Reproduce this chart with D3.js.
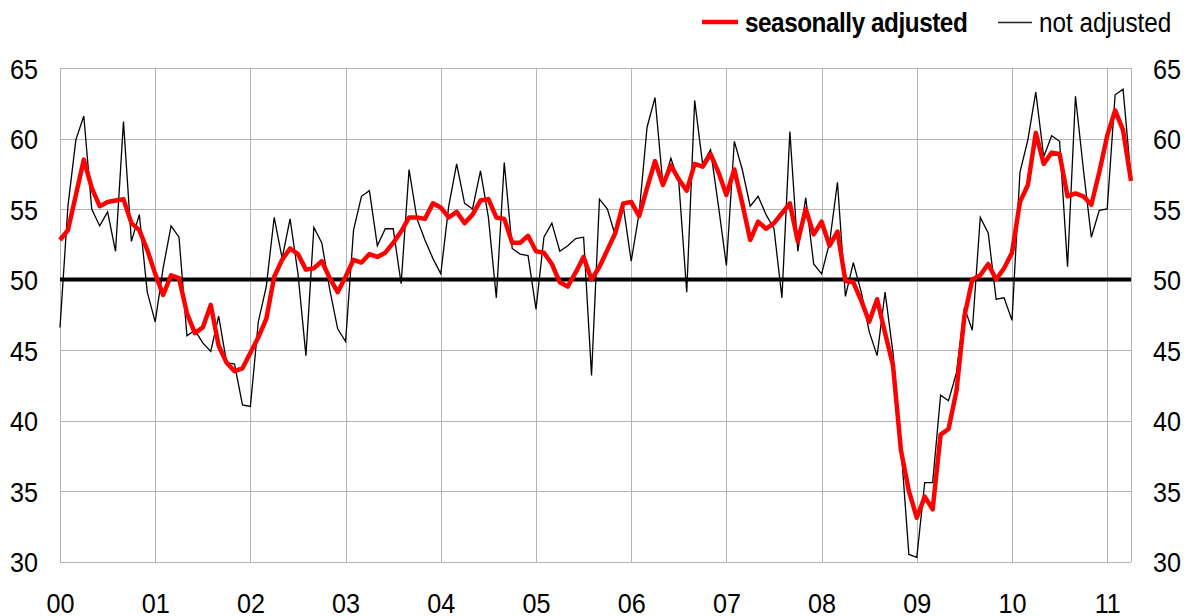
<!DOCTYPE html>
<meta charset="utf-8">
<style>
body { margin: 0; background: #fff; }
text { font-family: "Liberation Sans", Arial, sans-serif; fill: #000; }
.grid line { stroke: #b4b4b4; stroke-width: 1; shape-rendering: crispEdges; }
.grid path { display: none; }
</style>
<body>
<script src="https://d3js.org/d3.v7.min.js"></script>
<script>

// month index 0 = Jan 2000 ... 135 = Apr 2011
var yearLabels = ["00","01","02","03","04","05","06","07","08","09","10","11"];
var yTicks = [30, 35, 40, 45, 50, 55, 60, 65];

var seasonallyAdjusted = [
  52.8, 53.5, 56.0, 58.5, 56.5, 55.2, 55.5, 55.6, 55.7, 54.0, 53.5, 52.1,
  50.4, 48.9, 50.3, 50.1, 47.6, 46.2, 46.6, 48.2, 45.3, 44.1, 43.5, 43.7,
  44.8, 45.9, 47.2, 50.2, 51.4, 52.2, 51.8, 50.7, 50.8, 51.3, 50.1, 49.1,
  50.2, 51.4, 51.2, 51.8, 51.6, 51.9, 52.6, 53.4, 54.4, 54.4, 54.3, 55.4,
  55.1, 54.4, 54.8, 54.0, 54.6, 55.6, 55.7, 54.4, 54.3, 52.6, 52.6, 53.1,
  52.0, 51.9, 51.1, 49.8, 49.5, 50.5, 51.6, 50.0, 50.9, 52.1, 53.3, 55.4,
  55.5, 54.5, 56.5, 58.4, 56.7, 58.1, 57.1, 56.3, 58.2, 58.0, 58.9, 57.6,
  56.0, 57.8, 55.4, 52.8, 54.1, 53.6, 54.0, 54.7, 55.4, 52.7, 55.0, 53.2,
  54.1, 52.4, 53.4, 49.9, 49.8, 48.5, 47.0, 48.6, 46.2, 43.9, 37.9, 35.0,
  33.1, 34.6, 33.7, 39.0, 39.4, 42.1, 47.4, 50.0, 50.3, 51.1, 50.0, 50.8,
  51.9, 55.5, 56.7, 60.4, 58.2, 59.0, 58.9, 55.9, 56.1, 55.9, 55.3, 57.6,
  60.2, 62.0, 60.6, 57.0
];

var notAdjusted = [
  46.6, 55.2, 59.9, 61.6, 55.0, 53.8, 54.8, 52.0, 61.2, 52.7, 54.6, 49.1,
  47.0, 50.8, 53.8, 53.0, 46.0, 46.4, 45.5, 44.9, 47.4, 44.1, 44.0, 41.1,
  41.0, 47.0, 49.5, 54.4, 51.5, 54.3, 50.4, 44.6, 53.7, 52.6, 49.3, 46.5,
  45.6, 53.5, 55.9, 56.3, 52.4, 53.6, 53.6, 49.7, 57.8, 54.3, 52.8, 51.5,
  50.4, 55.2, 58.2, 55.4, 55.0, 57.7, 54.4, 48.7, 58.3, 52.2, 51.8, 51.7,
  47.9, 53.0, 54.0, 52.0, 52.4, 52.9, 53.0, 43.2, 55.7, 55.0, 53.1, 55.2,
  51.3, 54.7, 60.8, 62.9, 56.7, 58.6, 56.9, 49.1, 62.7, 58.2, 59.2, 55.2,
  51.0, 59.8, 57.8, 55.2, 55.9, 54.6, 53.6, 48.7, 60.5, 52.0, 55.8, 51.1,
  50.4, 52.6, 56.9, 48.8, 51.2, 49.1, 46.3, 44.6, 49.1, 44.8, 38.2, 30.5,
  30.3, 35.6, 35.6, 41.8, 41.4, 43.4, 48.0, 46.4, 54.4, 53.3, 48.6, 48.7,
  47.1, 57.6, 59.9, 63.3, 58.7, 60.2, 59.8, 50.9, 63.0, 57.8, 53.0, 54.9,
  55.0, 63.1, 63.5, 57.2
];

var W = 1192, H = 616;
var plotLeft = 60, plotRight = 1131, plotTop = 68, plotBottom = 561.5;

var x = d3.scaleLinear().domain([0, 135]).range([plotLeft, plotRight]);
var y = d3.scaleLinear().domain([30, 65]).range([plotBottom, plotTop]);

var svg = d3.select("body").append("svg")
    .attr("width", W)
    .attr("height", H);

// gridlines
svg.append("g")
    .attr("class", "grid")
    .attr("transform", "translate(" + plotLeft + ",0)")
    .call(d3.axisLeft(y).tickValues(yTicks).tickSize(-(plotRight - plotLeft)).tickFormat(""));

var yearTicks = yearLabels.map(function(d, i) { return i * 12; }).concat([135]);
svg.append("g")
    .attr("class", "grid")
    .attr("transform", "translate(0," + plotBottom + ")")
    .call(d3.axisBottom(x).tickValues(yearTicks).tickSize(-(plotBottom - plotTop)).tickFormat(""));

// 50 line
svg.append("line")
    .attr("x1", x(0)).attr("x2", x(135))
    .attr("y1", y(50)).attr("y2", y(50))
    .attr("stroke", "#000")
    .attr("stroke-width", 4);

var line = d3.line()
    .x(function(d, i) { return x(i); })
    .y(function(d) { return y(d); });

svg.append("path")
    .datum(notAdjusted)
    .attr("fill", "none")
    .attr("stroke", "#000")
    .attr("stroke-width", 1.3)
    .attr("stroke-linejoin", "miter")
    .attr("d", line);

svg.append("path")
    .datum(seasonallyAdjusted)
    .attr("fill", "none")
    .attr("stroke", "#ff0000")
    .attr("stroke-width", 4.5)
    .attr("stroke-linejoin", "round")
    .attr("d", line);

// axes (labels only)
function cleanAxis(g) {
  g.select(".domain").remove();
  g.selectAll(".tick line").remove();
  g.attr("font-size", null);
  g.selectAll("text").style("font-size", "28px").attr("fill", "#000");
}

svg.append("g")
    .attr("transform", "translate(" + plotLeft + ",0)")
    .call(d3.axisLeft(y).tickValues(yTicks).tickFormat(d3.format("d")))
    .call(cleanAxis)
    .selectAll("text")
      .attr("x", null).attr("dy", "0.36em")
      .attr("text-anchor", "end")
      .attr("transform", "translate(-22,0) scale(0.9,1)");

svg.append("g")
    .attr("transform", "translate(" + plotRight + ",0)")
    .call(d3.axisRight(y).tickValues(yTicks).tickFormat(d3.format("d")))
    .call(cleanAxis)
    .selectAll("text")
      .attr("x", null).attr("dy", "0.36em")
      .attr("text-anchor", "start")
      .attr("transform", "translate(22,0) scale(0.9,1)");

svg.append("g")
    .attr("transform", "translate(0," + plotBottom + ")")
    .call(d3.axisBottom(x)
      .tickValues(yearLabels.map(function(d, i) { return i * 12; }))
      .tickFormat(function(d) { return yearLabels[d / 12]; }))
    .call(cleanAxis)
    .selectAll("text")
      .attr("y", null).attr("dy", 0)
      .attr("text-anchor", "middle")
      .attr("transform", "translate(0,51.5) scale(0.9,1)");

// legend
var legend = svg.append("g");
legend.append("line")
    .attr("x1", 702).attr("x2", 738).attr("y1", 22).attr("y2", 22)
    .attr("stroke", "#ff0000").attr("stroke-width", 4.5);
legend.append("text")
    .attr("transform", "translate(745,32) scale(0.9,1)")
    .style("font-size", "27px")
    .style("font-weight", "bold")
    .style("letter-spacing", "-0.5px")
    .text("seasonally adjusted");
legend.append("line")
    .attr("x1", 998).attr("x2", 1032).attr("y1", 22.5).attr("y2", 22.5)
    .attr("stroke", "#222").attr("stroke-width", 1.3);
legend.append("text")
    .attr("transform", "translate(1039,32) scale(0.9,1)")
    .style("font-size", "27px")
    .text("not adjusted");

</script>
</body>
